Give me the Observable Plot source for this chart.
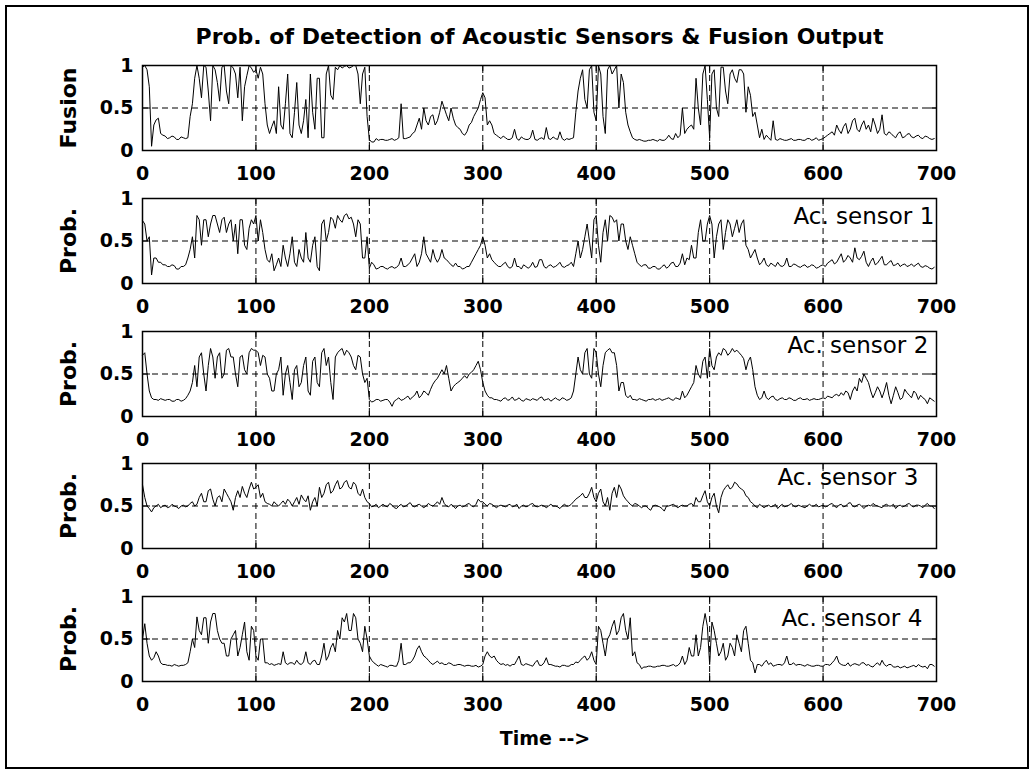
<!DOCTYPE html>
<html>
<head>
<meta charset="utf-8">
<script src="https://cdn.jsdelivr.net/npm/d3@7"></script>
<script src="https://cdn.jsdelivr.net/npm/@observablehq/plot@0.6"></script>
<style>
  html, body { margin: 0; padding: 0; background: #fff; }
  #fig { position: relative; width: 1034px; height: 774px; overflow: hidden; font-family: "DejaVu Sans", sans-serif; background: #fff; }
  #border { position: absolute; left: 5px; top: 5px; width: 1024px; height: 764px; box-sizing: border-box; border: 2px solid #000; }
  #title { position: absolute; left: 0; top: 26px; width: 1079px; text-align: center; font-size: 22px; line-height: 22px; font-weight: bold; color: #000; white-space: nowrap; }
  #xlabel { position: absolute; left: 0; top: 729px; width: 1090px; text-align: center; font-size: 19px; line-height: 19px; font-weight: bold; color: #000; white-space: nowrap; }
</style>
</head>
<body>
<div id="fig">
  <div id="border"></div>
  <div id="title">Prob. of Detection of Acoustic Sensors &amp; Fusion Output</div>
  <div id="xlabel">Time --&gt;</div>
</div>
<script>
// ---------------- data (sampled every 2 time units, 0..698) ----------------
const time = d3.range(0, 700, 2);

const fusion = [
  0.98,1.0,0.95,0.75,0.05,0.3,0.36,0.38,0.2,0.18, 0.17,0.14,0.15,0.17,0.16,0.13,0.13,0.16,0.15,0.14, 0.15,0.4,0.55,0.85,1.0,0.85,0.62,1.0,0.98,0.7, 0.35,1.0,0.95,0.8,0.58,0.98,1.0,0.7,0.55,1.0, 0.97,0.9,0.62,0.98,0.35,0.75,0.88,1.0,0.97,0.92,
  0.95,0.85,0.98,0.9,0.55,0.3,0.2,0.28,0.35,0.2, 0.75,0.3,0.25,0.55,0.9,0.2,0.15,0.45,0.8,0.3, 0.2,0.35,0.6,0.15,0.9,0.45,0.25,0.85,0.85,0.15, 0.15,0.9,1.0,0.65,0.6,0.98,0.95,1.0,0.97,0.99, 1.0,0.97,0.98,1.0,1.0,0.9,0.55,0.9,0.98,0.4,
  0.13,0.1,0.1,0.14,0.12,0.13,0.13,0.12,0.12,0.13, 0.14,0.12,0.13,0.15,0.55,0.14,0.14,0.15,0.16,0.2, 0.22,0.3,0.38,0.25,0.5,0.35,0.3,0.4,0.42,0.3, 0.35,0.45,0.58,0.5,0.42,0.35,0.5,0.38,0.3,0.27, 0.25,0.2,0.18,0.22,0.3,0.33,0.4,0.45,0.5,0.6,
  0.68,0.62,0.3,0.35,0.3,0.2,0.18,0.16,0.14,0.17, 0.15,0.13,0.13,0.15,0.25,0.14,0.12,0.16,0.14,0.13, 0.13,0.15,0.24,0.13,0.12,0.14,0.15,0.13,0.27,0.14, 0.13,0.16,0.14,0.13,0.22,0.14,0.12,0.14,0.13,0.14, 0.15,0.45,0.7,0.85,0.95,0.6,0.5,0.95,1.0,0.45,
  0.35,1.0,0.9,0.4,0.2,0.95,1.0,0.9,0.95,1.0, 0.5,0.9,0.8,0.45,0.3,0.22,0.15,0.13,0.12,0.13, 0.12,0.11,0.11,0.12,0.12,0.13,0.12,0.11,0.13,0.12, 0.12,0.14,0.18,0.14,0.13,0.2,0.15,0.18,0.5,0.2, 0.25,0.28,0.3,0.25,0.85,0.5,0.3,0.9,1.0,0.6,
  0.15,0.9,0.95,0.5,0.4,0.98,0.98,0.7,0.55,0.9, 0.95,0.85,0.8,0.95,0.95,0.9,0.45,0.75,0.65,0.4, 0.45,0.3,0.15,0.25,0.13,0.18,0.15,0.12,0.35,0.13, 0.12,0.14,0.13,0.12,0.12,0.13,0.14,0.12,0.12,0.13, 0.13,0.12,0.12,0.14,0.14,0.12,0.13,0.15,0.12,0.13,
  0.14,0.16,0.18,0.2,0.22,0.18,0.3,0.24,0.2,0.28, 0.32,0.2,0.25,0.35,0.38,0.25,0.22,0.3,0.35,0.25, 0.3,0.22,0.38,0.3,0.2,0.25,0.42,0.2,0.18,0.22, 0.2,0.17,0.15,0.2,0.22,0.15,0.16,0.19,0.2,0.16, 0.15,0.17,0.18,0.15,0.14,0.17,0.16,0.14,0.13,0.14
];

const sensor1 = [
  0.74,0.7,0.5,0.55,0.1,0.3,0.3,0.25,0.25,0.22, 0.22,0.2,0.2,0.22,0.21,0.17,0.17,0.2,0.2,0.22, 0.3,0.4,0.55,0.3,0.8,0.75,0.45,0.75,0.75,0.55, 0.7,0.8,0.8,0.7,0.6,0.75,0.78,0.6,0.7,0.75, 0.5,0.7,0.35,0.75,0.75,0.45,0.4,0.65,0.75,0.7,
  0.8,0.5,0.75,0.6,0.4,0.28,0.25,0.35,0.15,0.22, 0.3,0.2,0.45,0.3,0.2,0.35,0.55,0.25,0.2,0.4, 0.3,0.25,0.6,0.3,0.25,0.45,0.55,0.2,0.15,0.7, 0.75,0.5,0.6,0.78,0.75,0.65,0.8,0.75,0.72,0.8, 0.82,0.76,0.78,0.7,0.55,0.75,0.7,0.3,0.3,0.55,
  0.18,0.25,0.22,0.17,0.18,0.2,0.2,0.18,0.17,0.19, 0.2,0.18,0.19,0.22,0.3,0.2,0.2,0.22,0.25,0.3, 0.35,0.2,0.25,0.35,0.55,0.35,0.3,0.25,0.4,0.3, 0.25,0.3,0.4,0.3,0.28,0.25,0.22,0.2,0.24,0.2, 0.2,0.17,0.18,0.2,0.2,0.25,0.3,0.35,0.4,0.45,
  0.55,0.45,0.3,0.35,0.28,0.25,0.22,0.2,0.2,0.23, 0.25,0.2,0.18,0.2,0.3,0.2,0.2,0.17,0.22,0.2, 0.18,0.2,0.25,0.19,0.2,0.28,0.28,0.2,0.18,0.21, 0.22,0.19,0.2,0.22,0.25,0.2,0.19,0.21,0.22,0.25, 0.2,0.35,0.5,0.3,0.4,0.55,0.7,0.5,0.3,0.75,
  0.8,0.45,0.25,0.6,0.75,0.5,0.8,0.78,0.72,0.75, 0.5,0.7,0.7,0.5,0.4,0.55,0.45,0.35,0.25,0.22, 0.2,0.22,0.22,0.18,0.18,0.2,0.2,0.17,0.17,0.2, 0.22,0.18,0.2,0.24,0.25,0.2,0.2,0.24,0.35,0.22, 0.3,0.28,0.45,0.3,0.3,0.6,0.75,0.5,0.5,0.7,
  0.8,0.7,0.3,0.55,0.7,0.75,0.4,0.6,0.75,0.7, 0.55,0.65,0.75,0.6,0.7,0.75,0.45,0.4,0.3,0.35, 0.4,0.3,0.22,0.25,0.3,0.22,0.2,0.24,0.22,0.2, 0.25,0.21,0.2,0.22,0.3,0.2,0.2,0.23,0.22,0.2, 0.19,0.21,0.22,0.19,0.2,0.22,0.21,0.18,0.19,0.21,
  0.22,0.2,0.24,0.26,0.28,0.23,0.25,0.3,0.35,0.25, 0.28,0.33,0.3,0.25,0.42,0.3,0.28,0.32,0.38,0.25, 0.2,0.26,0.3,0.22,0.24,0.28,0.32,0.22,0.22,0.25, 0.27,0.21,0.22,0.24,0.2,0.22,0.23,0.2,0.21,0.23, 0.2,0.22,0.24,0.2,0.19,0.21,0.2,0.18,0.17,0.19
];

const sensor2 = [
  0.72,0.75,0.5,0.3,0.22,0.2,0.2,0.19,0.21,0.2, 0.19,0.2,0.2,0.18,0.18,0.2,0.2,0.18,0.19,0.21, 0.25,0.3,0.4,0.6,0.35,0.7,0.75,0.5,0.3,0.6, 0.8,0.7,0.45,0.7,0.75,0.45,0.5,0.78,0.8,0.7, 0.7,0.5,0.35,0.7,0.72,0.55,0.5,0.75,0.8,0.78,
  0.78,0.75,0.6,0.72,0.7,0.5,0.45,0.3,0.3,0.5, 0.55,0.7,0.25,0.5,0.6,0.4,0.2,0.55,0.6,0.35, 0.4,0.6,0.7,0.3,0.25,0.65,0.7,0.4,0.35,0.75, 0.8,0.6,0.7,0.4,0.2,0.7,0.75,0.78,0.8,0.72, 0.78,0.75,0.7,0.6,0.55,0.72,0.7,0.5,0.4,0.45,
  0.2,0.17,0.18,0.2,0.2,0.18,0.19,0.2,0.2,0.17, 0.12,0.18,0.2,0.22,0.19,0.2,0.22,0.24,0.2,0.23, 0.25,0.3,0.22,0.25,0.3,0.28,0.25,0.32,0.38,0.42, 0.45,0.5,0.55,0.5,0.6,0.45,0.3,0.35,0.38,0.4, 0.42,0.45,0.48,0.45,0.5,0.52,0.55,0.6,0.65,0.55,
  0.4,0.3,0.25,0.22,0.22,0.2,0.2,0.19,0.18,0.21, 0.22,0.19,0.2,0.23,0.19,0.2,0.22,0.19,0.18,0.21, 0.2,0.19,0.21,0.2,0.19,0.22,0.23,0.19,0.2,0.21, 0.18,0.2,0.22,0.2,0.19,0.22,0.21,0.19,0.2,0.22, 0.3,0.5,0.7,0.55,0.5,0.75,0.8,0.5,0.45,0.8,
  0.75,0.5,0.35,0.6,0.75,0.78,0.8,0.75,0.75,0.6, 0.3,0.4,0.4,0.25,0.22,0.25,0.2,0.2,0.19,0.21, 0.2,0.19,0.18,0.2,0.2,0.21,0.19,0.2,0.21,0.19, 0.2,0.21,0.22,0.2,0.19,0.22,0.21,0.2,0.3,0.22, 0.25,0.3,0.35,0.4,0.6,0.5,0.45,0.65,0.7,0.45,
  0.8,0.6,0.55,0.7,0.75,0.72,0.8,0.78,0.72,0.75, 0.8,0.76,0.78,0.75,0.72,0.68,0.55,0.65,0.7,0.55, 0.35,0.25,0.2,0.22,0.3,0.22,0.2,0.23,0.24,0.2, 0.19,0.21,0.22,0.2,0.2,0.22,0.21,0.19,0.19,0.21, 0.22,0.2,0.2,0.21,0.19,0.2,0.21,0.2,0.2,0.21,
  0.22,0.21,0.24,0.23,0.22,0.25,0.26,0.24,0.28,0.25, 0.3,0.28,0.2,0.3,0.35,0.3,0.45,0.4,0.5,0.45, 0.4,0.3,0.22,0.28,0.35,0.3,0.22,0.3,0.4,0.25, 0.15,0.25,0.35,0.28,0.2,0.22,0.32,0.28,0.25,0.22, 0.3,0.27,0.2,0.25,0.22,0.2,0.15,0.22,0.2,0.18
];

const sensor3 = [
  0.75,0.6,0.5,0.47,0.43,0.48,0.5,0.52,0.48,0.5, 0.51,0.48,0.49,0.52,0.5,0.49,0.47,0.5,0.51,0.49, 0.5,0.53,0.55,0.5,0.52,0.6,0.65,0.55,0.55,0.68, 0.7,0.58,0.5,0.6,0.62,0.55,0.7,0.65,0.6,0.55, 0.45,0.6,0.68,0.6,0.73,0.65,0.6,0.7,0.78,0.7,
  0.72,0.75,0.6,0.65,0.55,0.53,0.52,0.5,0.55,0.52, 0.5,0.53,0.56,0.52,0.58,0.55,0.5,0.55,0.6,0.52, 0.63,0.58,0.55,0.62,0.45,0.55,0.6,0.5,0.72,0.6, 0.65,0.75,0.78,0.65,0.68,0.75,0.8,0.7,0.72,0.78, 0.8,0.72,0.7,0.78,0.75,0.65,0.62,0.7,0.6,0.55,
  0.53,0.49,0.5,0.52,0.48,0.5,0.52,0.5,0.49,0.53, 0.51,0.48,0.47,0.5,0.52,0.49,0.5,0.52,0.54,0.5, 0.49,0.51,0.52,0.5,0.48,0.5,0.53,0.51,0.5,0.52, 0.55,0.52,0.6,0.53,0.5,0.49,0.52,0.5,0.47,0.5, 0.51,0.49,0.5,0.52,0.53,0.5,0.49,0.52,0.58,0.55,
  0.55,0.52,0.5,0.53,0.52,0.5,0.48,0.5,0.51,0.5, 0.49,0.51,0.52,0.49,0.5,0.52,0.47,0.5,0.51,0.49, 0.5,0.52,0.53,0.5,0.49,0.5,0.51,0.5,0.48,0.5, 0.52,0.5,0.5,0.49,0.47,0.5,0.52,0.5,0.5,0.52, 0.55,0.58,0.6,0.62,0.65,0.6,0.6,0.65,0.72,0.6,
  0.55,0.65,0.7,0.55,0.5,0.6,0.45,0.65,0.72,0.6, 0.75,0.7,0.62,0.58,0.55,0.52,0.5,0.53,0.52,0.5, 0.48,0.5,0.5,0.47,0.45,0.5,0.51,0.5,0.49,0.47, 0.44,0.5,0.5,0.51,0.52,0.5,0.48,0.5,0.51,0.5, 0.5,0.52,0.53,0.5,0.6,0.55,0.55,0.62,0.68,0.55,
  0.5,0.6,0.65,0.5,0.42,0.6,0.68,0.72,0.75,0.7, 0.72,0.78,0.76,0.72,0.7,0.68,0.62,0.6,0.55,0.53, 0.5,0.48,0.52,0.5,0.48,0.5,0.51,0.49,0.5,0.52, 0.47,0.5,0.52,0.49,0.5,0.51,0.53,0.5,0.49,0.51, 0.5,0.49,0.48,0.5,0.52,0.5,0.5,0.52,0.49,0.5,
  0.51,0.49,0.5,0.52,0.53,0.5,0.48,0.51,0.52,0.49, 0.5,0.53,0.54,0.5,0.49,0.51,0.52,0.5,0.47,0.5, 0.51,0.5,0.53,0.51,0.5,0.49,0.48,0.51,0.52,0.5, 0.5,0.52,0.47,0.5,0.51,0.49,0.5,0.52,0.53,0.5, 0.49,0.51,0.51,0.5,0.48,0.51,0.53,0.5,0.5,0.47
];

const sensor4 = [
  0.5,0.68,0.45,0.3,0.25,0.28,0.35,0.3,0.22,0.2, 0.2,0.19,0.19,0.18,0.2,0.19,0.18,0.19,0.19,0.2, 0.22,0.35,0.5,0.4,0.76,0.6,0.55,0.75,0.75,0.45, 0.7,0.8,0.8,0.6,0.5,0.45,0.45,0.3,0.3,0.5, 0.55,0.6,0.3,0.4,0.55,0.7,0.35,0.25,0.65,0.6,
  0.3,0.25,0.5,0.5,0.22,0.22,0.2,0.21,0.19,0.2, 0.21,0.2,0.35,0.22,0.2,0.22,0.22,0.2,0.25,0.21, 0.2,0.23,0.35,0.22,0.2,0.24,0.25,0.2,0.2,0.3, 0.45,0.25,0.3,0.4,0.45,0.35,0.6,0.5,0.75,0.7, 0.8,0.6,0.6,0.8,0.75,0.5,0.45,0.35,0.65,0.5,
  0.3,0.25,0.22,0.2,0.18,0.2,0.19,0.18,0.17,0.19, 0.19,0.18,0.18,0.25,0.45,0.2,0.2,0.22,0.22,0.25, 0.3,0.38,0.42,0.35,0.3,0.28,0.25,0.22,0.2,0.22, 0.24,0.21,0.22,0.2,0.2,0.22,0.21,0.19,0.19,0.2, 0.2,0.19,0.18,0.19,0.19,0.18,0.18,0.19,0.17,0.18,
  0.2,0.3,0.35,0.3,0.28,0.3,0.25,0.22,0.2,0.21, 0.19,0.2,0.18,0.2,0.2,0.25,0.3,0.2,0.19,0.21, 0.2,0.19,0.18,0.22,0.25,0.19,0.19,0.22,0.28,0.2, 0.2,0.19,0.18,0.18,0.17,0.19,0.19,0.18,0.18,0.2, 0.2,0.23,0.22,0.25,0.28,0.3,0.25,0.28,0.35,0.25,
  0.2,0.65,0.6,0.45,0.3,0.5,0.55,0.65,0.72,0.55, 0.6,0.75,0.8,0.6,0.5,0.75,0.3,0.35,0.22,0.2, 0.15,0.17,0.17,0.18,0.18,0.17,0.17,0.18,0.18,0.19, 0.19,0.18,0.18,0.19,0.2,0.18,0.19,0.22,0.3,0.2, 0.25,0.4,0.3,0.3,0.55,0.3,0.4,0.65,0.8,0.65,
  0.2,0.7,0.6,0.45,0.3,0.35,0.45,0.25,0.3,0.45, 0.4,0.3,0.55,0.45,0.35,0.6,0.65,0.45,0.25,0.22, 0.1,0.2,0.2,0.18,0.22,0.25,0.2,0.22,0.18,0.19, 0.2,0.2,0.19,0.22,0.3,0.2,0.2,0.22,0.19,0.2, 0.2,0.19,0.18,0.2,0.19,0.18,0.18,0.19,0.19,0.18,
  0.18,0.2,0.2,0.19,0.22,0.25,0.3,0.22,0.2,0.19, 0.19,0.22,0.18,0.2,0.21,0.2,0.19,0.22,0.22,0.19, 0.2,0.18,0.17,0.2,0.22,0.19,0.25,0.2,0.18,0.2, 0.2,0.17,0.17,0.18,0.16,0.17,0.18,0.16,0.17,0.18, 0.19,0.17,0.2,0.18,0.17,0.18,0.15,0.2,0.2,0.18
];

const seriesList = [fusion, sensor1, sensor2, sensor3, sensor4];
const yTitles = ["Fusion", "Prob.", "Prob.", "Prob.", "Prob."];
const legendTexts = [null, "Ac. sensor 1", "Ac. sensor 2", "Ac. sensor 3", "Ac. sensor 4"];
const xTickValues = [0, 100, 200, 300, 400, 500, 600, 700];
const xGridValues = [100, 200, 300, 400, 500, 600];
const yTickValues = [0, 0.5, 1];
const yTickLabels = ["0", "0.5", "1"];

// ---------------- layout ----------------
const panelTops = [65, 198, 331, 463, 596];
const plotH = 85, plotW = 794, mTop = 15, mBottom = 33, mLeft = 142, mRight = 98;
const legendPos = [null, {dx: 651, dy: 25}, {dx: 645, dy: 21}, {dx: 635, dy: 21}, {dx: 639, dy: 29}];
const FONT = "DejaVu Sans";

const fig = document.getElementById("fig");

seriesList.forEach((vals, k) => {
  const n = Math.min(time.length, vals.length);
  const data = d3.range(n).map(i => ({t: time[i], v: vals[i]}));
  const yTicks = yTickValues.map((v, i) => ({v, label: yTickLabels[i]}));
  const marks = [];
  if (legendTexts[k]) {
    marks.push(Plot.text([legendTexts[k]], {
      text: d => d, frameAnchor: "top-left", textAnchor: "start", lineAnchor: "bottom",
      dx: legendPos[k].dx, dy: legendPos[k].dy, fontSize: 23, fontFamily: FONT, fill: "#000"
    }));
  }
  marks.push(
    Plot.ruleX(xGridValues, {stroke: "#000", strokeWidth: 1, strokeDasharray: "6,4"}),
    Plot.ruleY([0.5], {stroke: "#000", strokeWidth: 1, strokeDasharray: "6,4"}),
    Plot.tickX(xGridValues, {x: d => d, stroke: "#000", strokeWidth: 1, insetTop: plotH - 8}),
    Plot.tickX(xGridValues, {x: d => d, stroke: "#000", strokeWidth: 1, insetBottom: plotH - 8}),
    Plot.tickY([0.5], {y: d => d, stroke: "#000", strokeWidth: 1, insetRight: plotW - 8}),
    Plot.tickY([0.5], {y: d => d, stroke: "#000", strokeWidth: 1, insetLeft: plotW - 8}),
    Plot.line(data, {x: "t", y: "v", stroke: "#000", strokeWidth: 1}),
    Plot.frame({stroke: "#000", strokeWidth: 1.5}),
    Plot.text(xTickValues, {
      x: d => d, text: d => String(d), frameAnchor: "bottom", lineAnchor: "middle", dy: 23,
      fontSize: 19, fontWeight: "bold", fontFamily: FONT, fill: "#000"
    }),
    Plot.text(yTicks, {
      y: "v", text: "label", frameAnchor: "left", textAnchor: "end", lineAnchor: "middle", dx: -9,
      fontSize: 19, fontWeight: "bold", fontFamily: FONT, fill: "#000"
    }),
    Plot.text([yTitles[k]], {
      text: d => d, frameAnchor: "left", rotate: -90, lineAnchor: "middle", textAnchor: "middle", dx: -74,
      fontSize: 22, fontWeight: "bold", fontFamily: FONT, fill: "#000", ariaLabel: "ylabel"
    })
  );
  const svg = Plot.plot({
    width: 1034,
    height: mTop + plotH + mBottom,
    marginTop: mTop, marginBottom: mBottom, marginLeft: mLeft, marginRight: mRight,
    x: {domain: [0, 700], axis: null},
    y: {domain: [0, 1], axis: null},
    style: {background: "transparent", overflow: "visible", fontFamily: FONT},
    marks
  });
  // stretch the rotated axis title horizontally (as in the reference)
  svg.querySelectorAll('g[aria-label="ylabel"] text').forEach(t => {
    const tr = t.getAttribute("transform") || "";
    if (tr.includes("rotate")) t.setAttribute("transform", tr.replace("rotate", "scale(1.4,1) rotate"));
  });
  svg.style.position = "absolute";
  svg.style.left = "0px";
  svg.style.top = (panelTops[k] - mTop) + "px";
  fig.appendChild(svg);
});
</script>
</body>
</html>
